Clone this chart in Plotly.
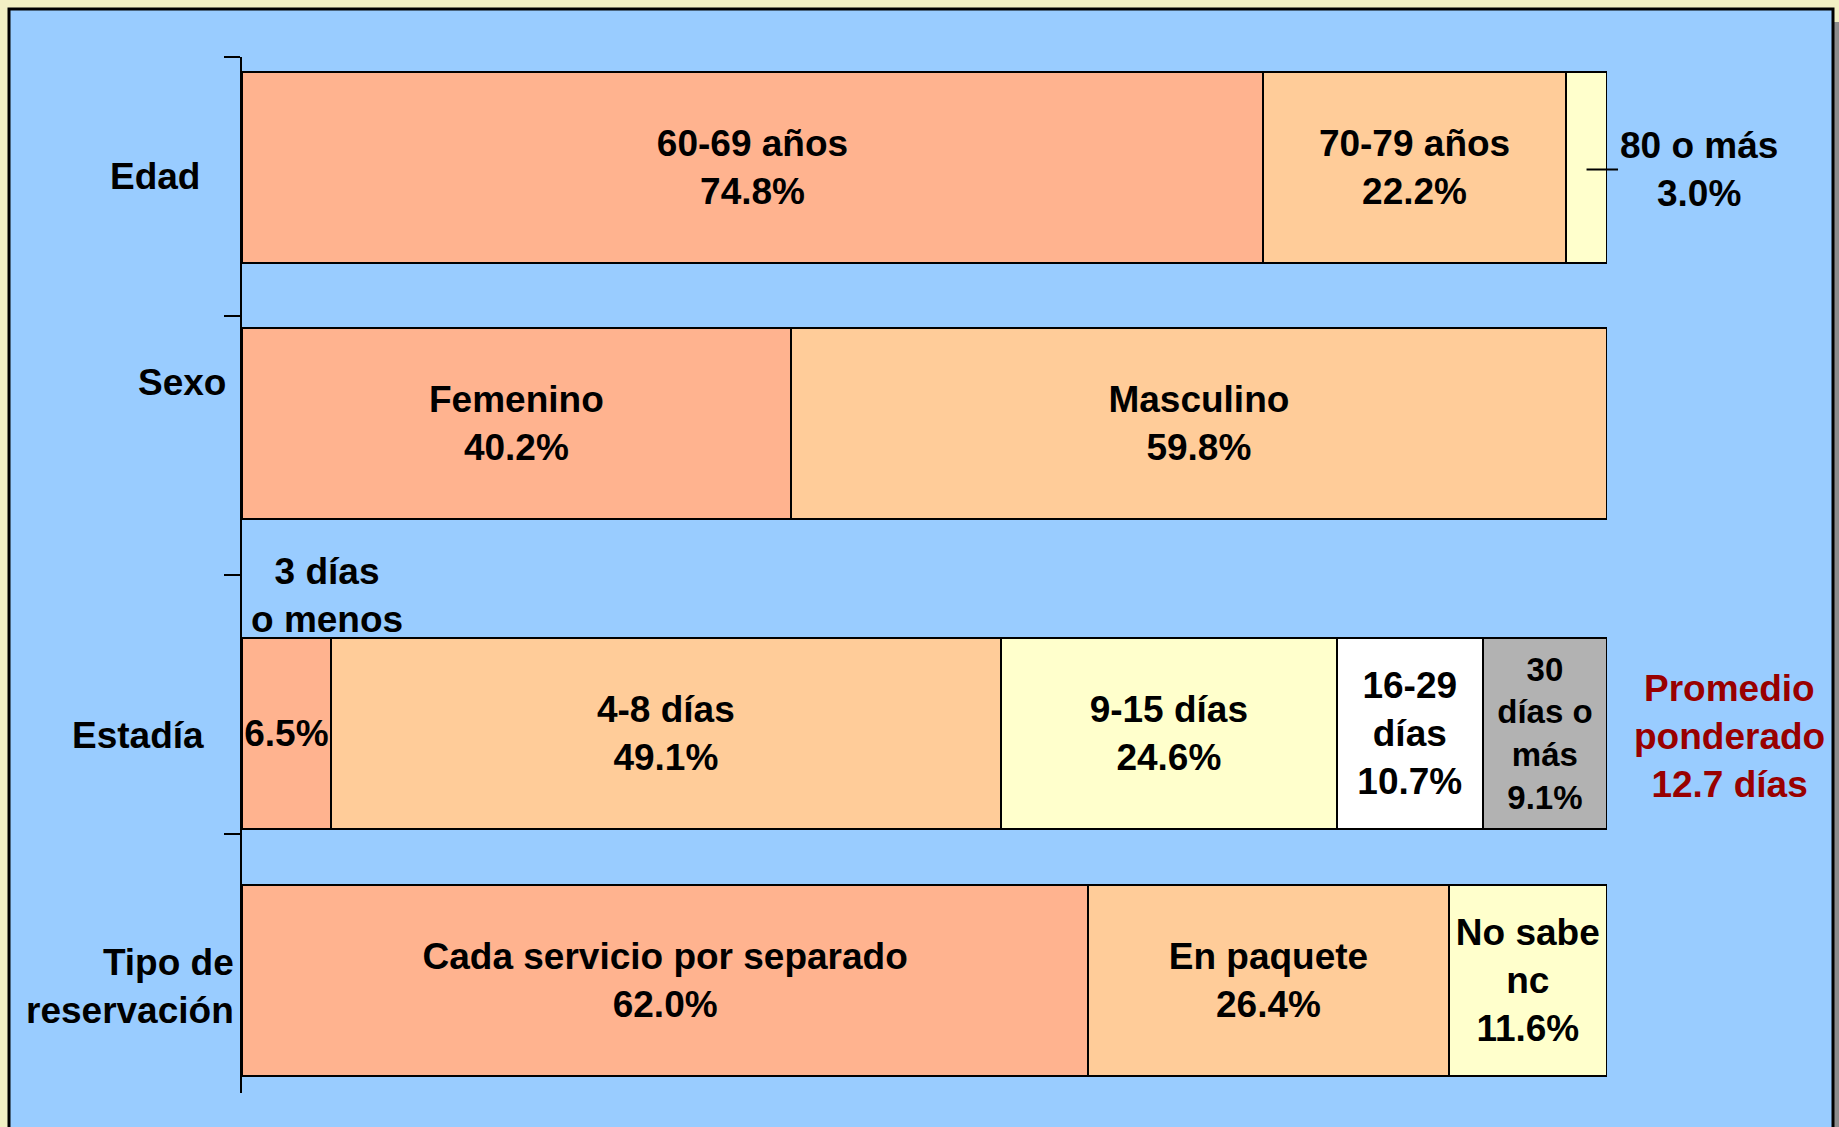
import numpy as np
import plotly.graph_objects as go

# rows of the chart (top to bottom)
filas = ["Edad", "Sexo", "Estadía", "Tipo de reservación"]
filas_texto = ["Edad", "Sexo", "Estadía", "Tipo de<br>reservación"]

edad_etiquetas = ["60-69 años", "70-79 años", "80 o más"]
edad_valores = [74.8, 22.2, 3.0]

sexo_etiquetas = ["Femenino", "Masculino"]
sexo_valores = [40.2, 59.8]

estadia_etiquetas = ["3 días<br>o menos", "4-8 días", "9-15 días", "16-29<br>días", "30<br>días o<br>más"]
estadia_valores = [6.5, 49.1, 24.6, 10.7, 9.1]

reserva_etiquetas = ["Cada servicio por separado", "En paquete", "No sabe<br>nc"]
reserva_valores = [62.0, 26.4, 11.6]

promedio_texto = ["Promedio", "ponderado<br>12.7 días"]

colores = ["#FFB38F", "#FFCC99", "#FFFFCC", "#FFFFFF", "#B2B2B2"]
AZUL = "#99CCFF"
ROJO = "#990000"
FUENTE = "Liberation Sans, Arial, sans-serif"
TAM = 37

# size of the figure / plot area in pixels
W, H = 1839, 1127
ML, MR, MT, MB = 242, 232, 57, 34
PW, PH = W - ML - MR, H - MT - MB


def px_x(p):
    return (p - ML) / PW


def px_y(p):
    return (H - MB - p) / PH


datos = [
    (filas[0], edad_etiquetas, edad_valores),
    (filas[1], sexo_etiquetas, sexo_valores),
    (filas[2], estadia_etiquetas, estadia_valores),
    (filas[3], reserva_etiquetas, reserva_valores),
]
# bars are not centred in their bands in the original
desplazamiento = [-0.442, -0.452, -0.257, -0.303]
ancho = 0.737

fig = go.Figure()
for (fila, etiquetas, valores), desp in zip(datos, desplazamiento):
    for i in range(len(valores)):
        texto = etiquetas[i] + "<br>" + f"{valores[i]:.1f}%"
        tam = TAM
        if fila == "Edad" and i == 2:
            texto = ""
        if fila == "Estadía" and i == 0:
            texto = f"{valores[i]:.1f}%"
        if texto.count("<br>") > 2:
            tam = 33  # four lines have to fit in the bar
        fig.add_trace(go.Bar(
            x=[valores[i]], y=[fila], orientation="h",
            width=ancho, offset=desp,
            marker=dict(color=colores[i], line=dict(color="black", width=2)),
            text=[texto], textposition="inside", insidetextanchor="middle",
            constraintext="none", textangle=0,
            textfont=dict(family=FUENTE, size=tam, color="black", weight="bold"),
            hoverinfo="skip", showlegend=False,
        ))

anotaciones = []
# row labels
label_shift = [(-40, 10), (-14, 63), (-36, -31), (-6, -23)]
for fila, txt, (dx, dy) in zip(filas, filas_texto, label_shift):
    anotaciones.append(dict(
        xref="paper", x=0, y=fila, text=txt, showarrow=False,
        xanchor="right", align="right", xshift=dx, yshift=dy,
        font=dict(family=FUENTE, size=TAM, color="black", weight="bold")))

# "80 o más" outside with leader line
x80 = np.cumsum(edad_valores)[-1] - edad_valores[-1] / 2
anotaciones.append(dict(
    x=x80, y="Edad", text=edad_etiquetas[2] + "<br>" + f"{edad_valores[2]:.1f}%",
    showarrow=True, arrowhead=0, arrowwidth=2, arrowcolor="black",
    ax=112, ay=0, yshift=17, standoff=0,
    font=dict(family=FUENTE, size=TAM, color="black", weight="bold")))

# "3 días o menos" above the stay bar
anotaciones.append(dict(
    xref="paper", x=0, y="Estadía", text=estadia_etiquetas[0], showarrow=False,
    xanchor="left", align="center", xshift=7, yshift=109,
    font=dict(family=FUENTE, size=TAM, color="black", weight="bold")))

# weighted average note
for txt, dy in zip(promedio_texto, [16, -56]):
    anotaciones.append(dict(
        xref="paper", x=px_x(1730), y="Estadía", text=txt, showarrow=False,
        xanchor="center", yshift=dy,
        font=dict(family=FUENTE, size=TAM, color=ROJO, weight="bold")))

fig.update_layout(
    width=W, height=H,
    margin=dict(l=ML, r=MR, t=MT, b=MB),
    paper_bgcolor="#F2F0C4",
    plot_bgcolor="rgba(0,0,0,0)",
    barmode="stack",
    showlegend=False,
    hovermode=False,
    annotations=anotaciones,
    shapes=[
        dict(type="rect", xref="paper", yref="paper", layer="below",
             x0=px_x(1833), x1=px_x(1850), y0=px_y(1150), y1=px_y(22),
             fillcolor="#8C8C8C", line=dict(width=0)),
        dict(type="rect", xref="paper", yref="paper", layer="below",
             x0=px_x(9), x1=px_x(1833), y0=px_y(1150), y1=px_y(9),
             fillcolor=AZUL, line=dict(color="black", width=3)),
    ],
    xaxis=dict(range=[0, 100], visible=False, fixedrange=True),
    yaxis=dict(
        categoryorder="array", categoryarray=filas,
        range=[3.5, -0.5],
        showline=True, linecolor="black", linewidth=2,
        ticks="outside", ticklen=16, tickwidth=2, tickcolor="black",
        tickson="boundaries", showticklabels=False, showgrid=False,
        zeroline=False, fixedrange=True,
    ),
)

# drop the default page margin so the figure fills the window
fig.write_html("out.html", config={"displayModeBar": False},
               post_script="document.body.style.margin='0';")
